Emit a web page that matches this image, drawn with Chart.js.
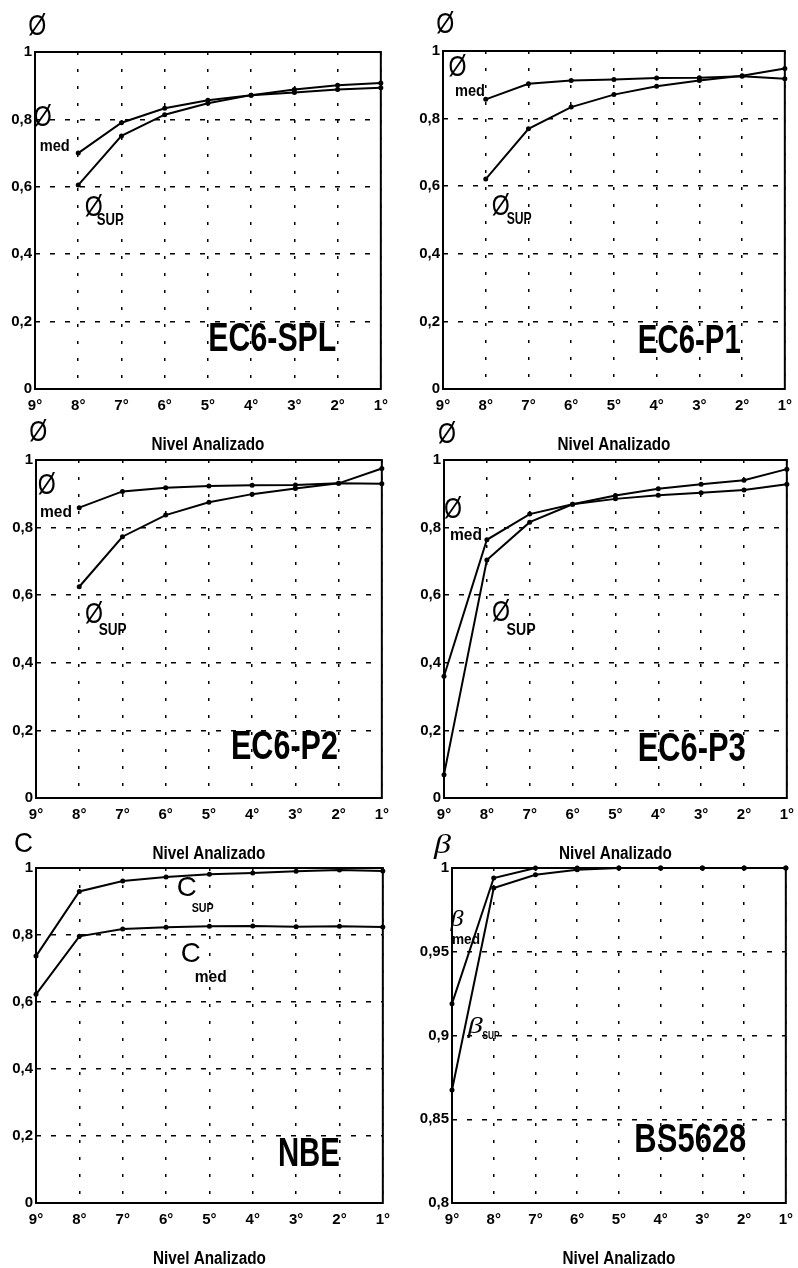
<!DOCTYPE html>
<html>
<head>
<meta charset="utf-8">
<script src="https://cdn.jsdelivr.net/npm/chart.js@4/dist/chart.umd.min.js"></script>
<style>
  html, body { margin: 0; padding: 0; background: #fff; }
  #page { position: relative; width: 798px; height: 1268px; overflow: hidden; background: #fff; }
  .panel { position: absolute; }
</style>
</head>
<body>
<div id="page"></div>
<script>
// ── Data ─────────────────────────────────────────────────────────────────
const levels = ['9°', '8°', '7°', '6°', '5°', '4°', '3°', '2°', '1°'];

const phiTicks = [0, 0.2, 0.4, 0.6, 0.8, 1];
const betaTicks = [0.8, 0.85, 0.9, 0.95, 1];

// EC6-SPL
const splMed = [null, 0.70, 0.79, 0.833, 0.857, 0.872, 0.880, 0.889, 0.894];
const splSup = [null, 0.605, 0.751, 0.814, 0.848, 0.872, 0.889, 0.901, 0.908];
// EC6-P1
const p1Med = [null, 0.857, 0.903, 0.913, 0.916, 0.920, 0.921, 0.925, 0.918];
const p1Sup = [null, 0.621, 0.770, 0.834, 0.871, 0.896, 0.913, 0.927, 0.948];
// EC6-P2
const p2Med = [null, 0.859, 0.907, 0.918, 0.923, 0.925, 0.926, 0.931, 0.930];
const p2Sup = [null, 0.625, 0.773, 0.837, 0.875, 0.899, 0.916, 0.931, 0.975];
// EC6-P3
const p3Med = [0.36, 0.764, 0.840, 0.869, 0.885, 0.896, 0.903, 0.911, 0.928];
const p3Sup = [0.069, 0.704, 0.816, 0.869, 0.895, 0.915, 0.928, 0.940, 0.973];
// NBE
const nbeSup = [0.737, 0.930, 0.961, 0.973, 0.981, 0.985, 0.990, 0.994, 0.991];
const nbeMed = [0.623, 0.796, 0.818, 0.823, 0.826, 0.827, 0.825, 0.826, 0.824];
// BS5628
const bsMed = [0.919, 0.994, 1.0, 1.0, 1.0, 1.0, 1.0, 1.0, 1.0];
const bsSup = [0.8675, 0.988, 0.996, 0.999, 1.0, 1.0, 1.0, 1.0, 1.0];

const xTitle = 'Nivel Analizado';

// ── Fonts / helpers ──────────────────────────────────────────────────────
const SANS = "'Liberation Sans', Arial, sans-serif";
const SERIF = "'Liberation Serif', 'DejaVu Serif', serif";

const PHI = '30px ' + SANS;
const SUB = 'bold 16px ' + SANS;
const BIG = 'bold 40px ' + SANS;

const fmt = v => String(Math.round(v * 100) / 100).replace('.', ',');

// notes: x = category index (fractional ok), y = value, w = squeezed width
const panels = [
  { area: [35, 52, 388, 389], series: [splMed, splSup], ticks: phiTicks, min: 0, max: 1,
    notes: [
      { t: 'Ø', x: 0.05, y: 1.074, font: PHI, w: 18 },
      { t: 'Ø', x: 0.18, y: 0.804, font: PHI, w: 18 },
      { t: 'med', x: 0.11, y: 0.718, font: SUB, align: 'left', w: 30 },
      { t: 'Ø', x: 1.36, y: 0.537, font: PHI, w: 18 },
      { t: 'SUP', x: 1.43, y: 0.499, font: SUB, align: 'left', w: 27 },
      { t: 'EC6-SPL', x: 4.01, y: 0.146, font: BIG, align: 'left', w: 128 },
    ] },
  { area: [443, 51, 792, 389], series: [p1Med, p1Sup], ticks: phiTicks, min: 0, max: 1,
    notes: [
      { t: 'Ø', x: 0.05, y: 1.077, font: PHI, w: 18 },
      { t: 'Ø', x: 0.34, y: 0.95, font: PHI, w: 18 },
      { t: 'med', x: 0.28, y: 0.88, font: SUB, align: 'left', w: 30 },
      { t: 'Ø', x: 1.35, y: 0.538, font: PHI, w: 18 },
      { t: 'SUP', x: 1.49, y: 0.50, font: SUB, align: 'left', w: 25 },
      { t: 'EC6-P1', x: 4.56, y: 0.139, font: BIG, align: 'left', w: 103 },
    ] },
  { area: [36, 460, 389, 798], series: [p2Med, p2Sup], ticks: phiTicks, min: 0, max: 1,
    notes: [
      { t: 'Ø', x: 0.05, y: 1.08, font: PHI, w: 18 },
      { t: 'Ø', x: 0.25, y: 0.923, font: PHI, w: 18 },
      { t: 'med', x: 0.09, y: 0.843, font: SUB, align: 'left', w: 32 },
      { t: 'Ø', x: 1.34, y: 0.541, font: PHI, w: 18 },
      { t: 'SUP', x: 1.45, y: 0.494, font: SUB, align: 'left', w: 28 },
      { t: 'EC6-P2', x: 4.51, y: 0.147, font: BIG, align: 'left', w: 107 },
    ] },
  { area: [444, 460, 794, 798], series: [p3Med, p3Sup], ticks: phiTicks, min: 0, max: 1,
    notes: [
      { t: 'Ø', x: 0.07, y: 1.076, font: PHI, w: 18 },
      { t: 'Ø', x: 0.21, y: 0.852, font: PHI, w: 18 },
      { t: 'med', x: 0.14, y: 0.776, font: SUB, align: 'left', w: 32 },
      { t: 'Ø', x: 1.33, y: 0.547, font: PHI, w: 18 },
      { t: 'SUP', x: 1.46, y: 0.495, font: SUB, align: 'left', w: 29 },
      { t: 'EC6-P3', x: 4.52, y: 0.143, font: BIG, align: 'left', w: 108 },
    ] },
  { area: [36, 868, 390, 1203], series: [nbeSup, nbeMed], ticks: phiTicks, min: 0, max: 1,
    notes: [
      { t: 'C', x: -0.29, y: 1.070, font: '28px ' + SANS, w: 19 },
      { t: 'C', x: 3.48, y: 0.94, font: '28px ' + SANS, w: 20 },
      { t: 'SUP', x: 3.59, y: 0.88, font: 'bold 12px ' + SANS, align: 'left', w: 22 },
      { t: 'C', x: 3.57, y: 0.742, font: '28px ' + SANS, w: 20 },
      { t: 'med', x: 3.66, y: 0.672, font: SUB, align: 'left', w: 32 },
      { t: 'NBE', x: 5.58, y: 0.144, font: BIG, align: 'left', w: 62 },
    ] },
  { area: [452, 868, 793, 1203], series: [bsMed, bsSup], ticks: betaTicks, min: 0.8, max: 1,
    notes: [
      { t: 'β', x: -0.23, y: 1.0135, font: 'italic 28px ' + SERIF, w: 17 },
      { t: 'β', x: 0.12, y: 0.969, font: 'italic 24px ' + SERIF, w: 13 },
      { t: 'med', x: 0.0, y: 0.957, font: 'bold 15px ' + SANS, align: 'left', w: 28 },
      { t: 'β', x: 0.56, y: 0.905, font: 'italic 24px ' + SERIF, w: 15 },
      { t: 'SUP', x: 0.73, y: 0.90, font: 'bold 11px ' + SANS, align: 'left', w: 17 },
      { t: 'BS5628', x: 4.37, y: 0.837, font: BIG, align: 'left', w: 112 },
    ] },
];

function squeezeText(ctx, n, px, py) {
  ctx.save();
  ctx.font = n.font;
  ctx.textAlign = n.align || 'center';
  ctx.textBaseline = 'middle';
  const sx = n.w ? n.w / ctx.measureText(n.t).width : 1;
  ctx.translate(px, py);
  ctx.scale(sx, 1);
  ctx.fillText(n.t, 0, 0);
  ctx.restore();
}

// frame, free text and the condensed x title
const notesPlugin = {
  id: 'notes',
  afterDraw(chart, args, opts) {
    const { ctx, chartArea: a, scales: { x, y } } = chart;
    ctx.save();
    ctx.strokeStyle = '#000';
    ctx.lineWidth = 2;
    ctx.strokeRect(a.left, a.top, a.right - a.left, a.bottom - a.top);
    ctx.fillStyle = '#000';
    (opts.notes || []).forEach(n => {
      squeezeText(ctx, n, x.getPixelForValue(n.x), y.getPixelForValue(n.y));
    });
    squeezeText(ctx, { t: xTitle, font: 'bold 18px ' + SANS, w: 113 },
                (a.left + a.right) / 2, a.bottom + 56);
    ctx.restore();
  }
};

const PAD_L = 40, PAD_T = 45, PAD_R = 8, PAD_B = 72;
const page = document.getElementById('page');

panels.forEach(p => {
  const [l, t, r, b] = p.area;
  const w = r - l + PAD_L + PAD_R;
  const h = b - t + PAD_T + PAD_B;
  const box = document.createElement('div');
  box.className = 'panel';
  box.style.left = (l - PAD_L) + 'px';
  box.style.top = (t - PAD_T) + 'px';
  const cv = document.createElement('canvas');
  cv.width = w; cv.height = h;
  cv.style.width = w + 'px'; cv.style.height = h + 'px';
  box.appendChild(cv);
  page.appendChild(box);

  const tickFont = { family: SANS, size: 15, weight: 'bold' };

  new Chart(cv, {
    type: 'line',
    data: {
      labels: levels,
      datasets: p.series.map(s => ({
        data: s,
        borderColor: '#000',
        borderWidth: 2,
        pointRadius: 2.5,
        pointBackgroundColor: '#000',
        pointBorderWidth: 0,
        tension: 0,
        spanGaps: false,
        clip: false,
      }))
    },
    options: {
      responsive: false,
      animation: false,
      devicePixelRatio: 1,
      layout: { padding: { top: PAD_T, right: PAD_R, left: 0, bottom: 0 } },
      plugins: {
        legend: { display: false },
        tooltip: { enabled: false },
        notes: { notes: p.notes },
      },
      scales: {
        x: {
          type: 'category',
          offset: false,
          afterFit: s => { s.height = PAD_B; },
          grid: { color: '#000', lineWidth: 1.5, drawTicks: false },
          border: { display: false, dash: [3, 14] },
          ticks: { color: '#000', font: tickFont, padding: 8, autoSkip: false, maxRotation: 0 },
        },
        y: {
          min: p.min, max: p.max,
          afterFit: s => { s.width = PAD_L; },
          afterBuildTicks: s => { s.ticks = p.ticks.map(v => ({ value: v })); },
          grid: { color: '#000', lineWidth: 1.5, drawTicks: false },
          border: { display: false, dash: [5, 10] },
          ticks: { color: '#000', font: tickFont, padding: 3, callback: v => fmt(v) },
        }
      }
    },
    plugins: [notesPlugin]
  });
});
</script>
</body>
</html>
